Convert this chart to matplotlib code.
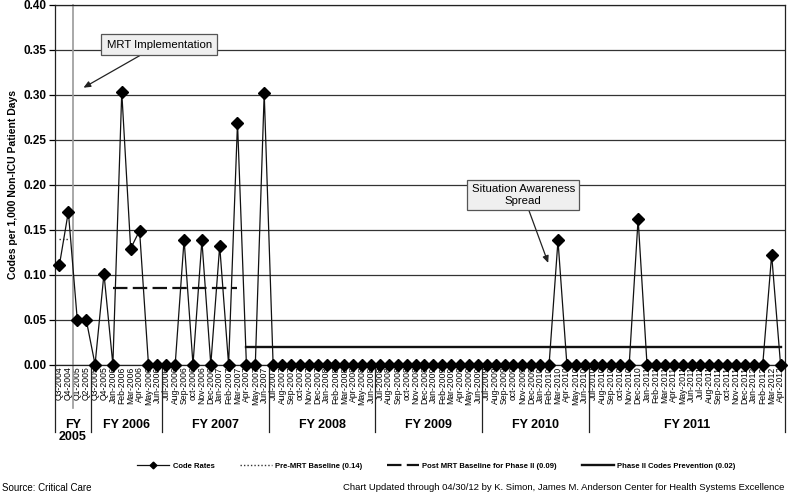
import matplotlib
matplotlib.use('Agg')
import matplotlib.pyplot as plt
import matplotlib.transforms as mtransforms
from matplotlib.lines import Line2D
import numpy as np

plt.rcParams['font.family'] = ['Liberation Sans', 'DejaVu Sans']

categories = [
    'Q3-2004', 'Q4-2004', 'Q1-2005', 'Q2-2005', 'Q3-2005', 'Q4-2005',
    'Jan-2006', 'Feb-2006', 'Mar-2006', 'Apr-2006', 'May-2006', 'Jun-2006',
    'Jul-2006', 'Aug-2006', 'Sep-2006', 'oct-2006', 'Nov-2006', 'Dec-2006',
    'Jan-2007', 'Feb-2007', 'Mar-2007', 'Apr-2007', 'May-2007', 'Jun-2007',
    'Jul-2007', 'Aug-2007', 'Sep-2007', 'oct-2007', 'Nov-2007', 'Dec-2007',
    'Jan-2008', 'Feb-2008', 'Mar-2008', 'Apr-2008', 'May-2008', 'Jun-2008',
    'Jul-2008', 'Aug-2008', 'Sep-2008', 'oct-2008', 'Nov-2008', 'Dec-2008',
    'Jan-2009', 'Feb-2009', 'Mar-2009', 'Apr-2009', 'May-2009', 'Jun-2009',
    'Jul-2009', 'Aug-2009', 'Sep-2009', 'oct-2009', 'Nov-2009', 'Dec-2009',
    'Jan-2010', 'Feb-2010', 'Mar-2010', 'Apr-2010', 'May-2010', 'Jun-2010',
    'Jul-2010', 'Aug-2010', 'Sep-2010', 'oct-2010', 'Nov-2010', 'Dec-2010',
    'Jan-2011', 'Feb-2011', 'Mar-2011', 'Apr-2011', 'May-2011', 'Jun-2011',
    'Jul-2011', 'Aug-2011', 'Sep-2011', 'oct-2011', 'Nov-2011', 'Dec-2011',
    'Jan-2012', 'Feb-2012', 'Mar-2012', 'Apr-2012',
]

code_rates = [
    0.111, 0.170, 0.050, 0.050, 0.000, 0.101,
    0.000, 0.303, 0.129, 0.149, 0.000, 0.000,
    0.000, 0.000, 0.139, 0.000, 0.138, 0.000,
    0.132, 0.000, 0.269, 0.000, 0.000, 0.302,
    0.000, 0.000, 0.000, 0.000, 0.000, 0.000,
    0.000, 0.000, 0.000, 0.000, 0.000, 0.000,
    0.000, 0.000, 0.000, 0.000, 0.000, 0.000,
    0.000, 0.000, 0.000, 0.000, 0.000, 0.000,
    0.000, 0.000, 0.000, 0.000, 0.000, 0.000,
    0.000, 0.000, 0.138, 0.000, 0.000, 0.000,
    0.000, 0.000, 0.000, 0.000, 0.000, 0.162,
    0.000, 0.000, 0.000, 0.000, 0.000, 0.000,
    0.000, 0.000, 0.000, 0.000, 0.000, 0.000,
    0.000, 0.000, 0.122, 0.000,
]

fiscal_years = ['FY\n2005', 'FY 2006', 'FY 2007', 'FY 2008', 'FY 2009', 'FY 2010', 'FY 2011']
fy_counts = [4, 8, 12, 12, 12, 12, 22]

pre_mrt_value = 0.14
pre_mrt_span = ('Q3-2004', 'Q4-2004')
post_mrt_value = 0.085
post_mrt_span = ('Jan-2006', 'Mar-2007')
phase2_value = 0.02
phase2_span = ('Apr-2007', 'Apr-2012')

legend_labels = ['Code Rates', 'Pre-MRT Baseline (0.14)',
                 'Post MRT Baseline for Phase II (0.09)', 'Phase II Codes Prevention (0.02)']

x = np.arange(len(categories))
idx = {c: i for i, c in enumerate(categories)}

fig = plt.figure(figsize=(7.88, 4.96), dpi=100)
ax = fig.add_axes([55 / 788, 1 - 364.5 / 496, (785 - 55) / 788, (364.5 - 5) / 496])

ax.set_xlim(-0.5, len(categories) - 0.5)
ax.set_ylim(0, 0.40)
ax.set_yticks(np.arange(0, 0.401, 0.05))
ax.set_yticklabels([f'{v:.2f}' for v in np.arange(0, 0.401, 0.05)], fontsize=8.5, fontweight='bold')
ax.yaxis.grid(True, color='#333333', linewidth=0.9)
ax.set_axisbelow(True)
for s in ['left', 'right', 'top', 'bottom']:
    ax.spines[s].set_color('#222222')
    ax.spines[s].set_linewidth(0.9)
ax.tick_params(axis='y', length=4, width=0.9, pad=2)

ax.set_xticks(x)
ax.set_xticklabels(categories, rotation=90, fontsize=6.2)
ax.tick_params(axis='x', length=0, pad=1.5)

ax.set_ylabel('Codes per 1,000 Non-ICU Patient Days', fontsize=7.5, fontweight='bold', labelpad=4)

# MRT implementation vertical line
mrt_x = (idx['Q4-2004'] + idx['Q1-2005']) / 2
trans = mtransforms.blended_transform_factory(ax.transData, ax.transAxes)
ax.add_line(Line2D([mrt_x, mrt_x], [-0.12, 1], transform=trans, color='#9a9a9a',
                   linewidth=1.2, clip_on=False, zorder=1))

# Baselines
l_pre, = ax.plot([idx[pre_mrt_span[0]], idx[pre_mrt_span[1]]], [pre_mrt_value] * 2,
                 color='#333333', linestyle=(0, (1, 1.5)), linewidth=1.0, zorder=2)
l_post, = ax.plot([idx[post_mrt_span[0]], idx[post_mrt_span[1]]], [post_mrt_value] * 2,
                  color='#111111', linestyle=(0, (6.5, 2.4)), linewidth=1.6, zorder=2)
l_ph2, = ax.plot([idx[phase2_span[0]], idx[phase2_span[1]]], [phase2_value] * 2,
                 color='#111111', linestyle='-', linewidth=1.7, zorder=2)

# Code rates
l_code, = ax.plot(x, code_rates, color='#111111', linewidth=0.9, marker='D',
                  markersize=5.7, markerfacecolor='black', markeredgecolor='black',
                  zorder=4, clip_on=False)

# Fiscal year grouping
bounds = np.concatenate([[-0.5], np.cumsum(fy_counts) - 0.5])
for b in bounds:
    ax.add_line(Line2D([b, b], [0, -0.188], transform=trans, color='#222222',
                       linewidth=0.9, clip_on=False))
for i, fy in enumerate(fiscal_years):
    cx = (bounds[i] + bounds[i + 1]) / 2
    ax.text(cx, -0.152, fy, transform=trans, ha='center', va='top',
            fontsize=9, fontweight='bold', linespacing=1.0)

# Annotations
bbox_props = dict(boxstyle='square,pad=0.5', facecolor='#efefef', edgecolor='#555555', linewidth=0.9)
ax.annotate('MRT Implementation', xy=(2.7, 0.308), xytext=(11.2, 0.356),
            fontsize=8.2, ha='center', va='center', bbox=bbox_props,
            arrowprops=dict(arrowstyle='-|>,head_length=0.5,head_width=0.22',
                            color='#222222', linewidth=0.9, shrinkA=0, shrinkB=0))
ax.annotate('Situation Awareness\nSpread', xy=(54.9, 0.113), xytext=(52.1, 0.1885),
            fontsize=8.2, ha='center', va='center', bbox=dict(bbox_props, boxstyle='square,pad=0.4'),
            linespacing=1.2,
            arrowprops=dict(arrowstyle='-|>,head_length=0.5,head_width=0.22',
                            color='#222222', linewidth=0.9, shrinkA=0, shrinkB=0))

# Legend
fig.legend([l_code, l_pre, l_post, l_ph2], legend_labels, loc='center',
           bbox_to_anchor=(0.554, 1 - 466 / 496), ncol=4, frameon=False,
           prop=dict(size=5.5, weight='bold'), handlelength=4.2, handletextpad=0.4,
           columnspacing=3.3, markerscale=0.6)

fig.text(2 / 788, 1 - 488 / 496, 'Source: Critical Care', fontsize=7.0, ha='left', va='center')
fig.text(784 / 788, 1 - 488 / 496,
         'Chart Updated through 04/30/12 by K. Simon, James M. Anderson Center for Health Systems Excellence',
         fontsize=6.8, ha='right', va='center')

fig.savefig('out.png', dpi=100)
